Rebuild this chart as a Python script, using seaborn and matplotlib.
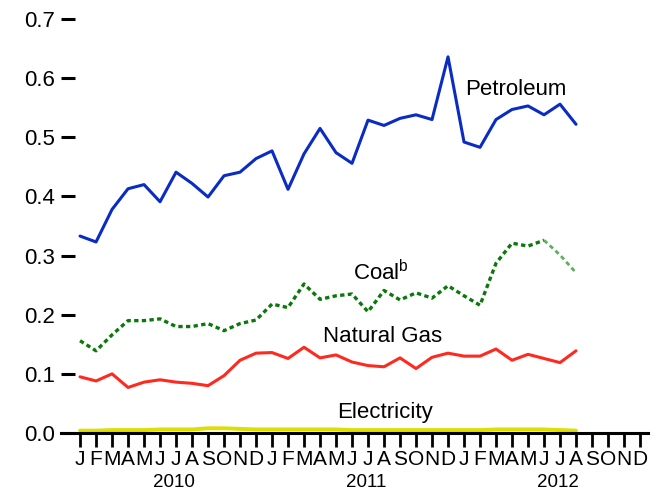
import numpy as np
import pandas as pd
import matplotlib
matplotlib.use("Agg")
import matplotlib.pyplot as plt
import seaborn as sns

# --- data (monthly, Jan 2010 - Aug 2012) ---
month_letters = ["J", "F", "M", "A", "M", "J", "J", "A", "S", "O", "N", "D"]
years = ["2010", "2011", "2012"]

petroleum = [0.333, 0.323, 0.378, 0.413, 0.420, 0.391, 0.441, 0.422, 0.399, 0.435, 0.441, 0.464,
             0.477, 0.412, 0.472, 0.515, 0.474, 0.456, 0.529, 0.520, 0.532, 0.538, 0.530, 0.636,
             0.492, 0.483, 0.530, 0.547, 0.553, 0.538, 0.556, 0.522]
coal = [0.156, 0.139, 0.166, 0.190, 0.190, 0.193, 0.180, 0.180, 0.185, 0.173, 0.185, 0.191,
        0.218, 0.212, 0.252, 0.226, 0.232, 0.235, 0.205, 0.241, 0.225, 0.237, 0.228, 0.249,
        0.232, 0.216, 0.287, 0.321, 0.316, 0.326, 0.301, 0.271]
natural_gas = [0.095, 0.088, 0.100, 0.077, 0.086, 0.090, 0.086, 0.084, 0.080, 0.097, 0.123, 0.135,
               0.136, 0.126, 0.145, 0.127, 0.132, 0.120, 0.114, 0.112, 0.127, 0.109, 0.128, 0.135,
               0.130, 0.130, 0.142, 0.123, 0.133, 0.126, 0.119, 0.139]
electricity = [0.004, 0.004, 0.005, 0.005, 0.005, 0.006, 0.006, 0.006, 0.008, 0.008, 0.007, 0.006,
               0.006, 0.006, 0.006, 0.006, 0.006, 0.005, 0.005, 0.005, 0.005, 0.005, 0.005, 0.005,
               0.005, 0.005, 0.006, 0.006, 0.006, 0.006, 0.005, 0.004]

n_months = len(years) * 12
idx = np.arange(len(petroleum))
df = pd.DataFrame({"month": idx, "Petroleum": petroleum, "Coal": coal,
                   "Natural Gas": natural_gas, "Electricity": electricity})

sns.set_style("white")
plt.rcParams["font.family"] = ["Liberation Sans", "DejaVu Sans"]
plt.rcParams["mathtext.fontset"] = "custom"
plt.rcParams["mathtext.rm"] = "Liberation Sans"
plt.rcParams["text.color"] = "black"
plt.rcParams["xtick.color"] = "black"
plt.rcParams["ytick.color"] = "black"

fig = plt.figure(figsize=(6.6, 4.93), dpi=100)
ax = fig.add_axes([61 / 660, 1 - 433 / 493, (648 - 61) / 660, (433 - 19) / 493])

sns.lineplot(data=df, x="month", y="Electricity", ax=ax, color="#dede00", linewidth=2.8, zorder=2)
sns.lineplot(data=df, x="month", y="Natural Gas", ax=ax, color="#ff2a1f", linewidth=2.2)
# coal: last stretch drawn lighter
sns.lineplot(data=df.iloc[:30], x="month", y="Coal", ax=ax, color="#0a780a", linewidth=2.4,
             dashes=False, linestyle=(0, (1.3, 1.0)))
sns.lineplot(data=df.iloc[29:], x="month", y="Coal", ax=ax, color="#5fae5f", linewidth=2.0,
             dashes=False, linestyle=(0, (1.6, 1.2)))
sns.lineplot(data=df, x="month", y="Petroleum", ax=ax, color="#0a2bc4", linewidth=2.2)

# inline labels
ax.text(24.05, 0.58, "Petroleum", fontsize=16, va="center", ha="left")
ax.text(17.05, 0.272, r"Coal$^{\mathrm{b}}$", fontsize=16, va="center", ha="left")
ax.text(15.2, 0.164, "Natural Gas", fontsize=16, va="center", ha="left")
ax.text(16.1, 0.034, "Electricity", fontsize=16, va="center", ha="left")

ax.set_xlim(-1.19, 35.5)
ax.set_ylim(0, 0.7)
ax.set_yticks(np.arange(0, 0.71, 0.1))
ax.set_yticklabels([f"{v:.1f}" for v in np.arange(0, 0.71, 0.1)], fontsize=16)
ax.set_xticks(np.arange(n_months))
ax.set_xticklabels(month_letters * len(years), fontsize=15)
ax.tick_params(axis="y", direction="in", length=10, width=2.2, pad=4, left=True)
ax.tick_params(axis="x", direction="out", length=10, width=2, pad=2, bottom=True)
ax.set_xlabel("")
ax.set_ylabel("")

for side in ["left", "top", "right"]:
    ax.spines[side].set_visible(False)
ax.spines["bottom"].set_linewidth(2.2)
ax.spines["bottom"].set_color("black")

for k, yr in enumerate(years):
    ax.text(12 * k + 5.9, -0.083, yr, fontsize=13.5, ha="center", va="center", clip_on=False)

fig.savefig("out.png", dpi=100)
